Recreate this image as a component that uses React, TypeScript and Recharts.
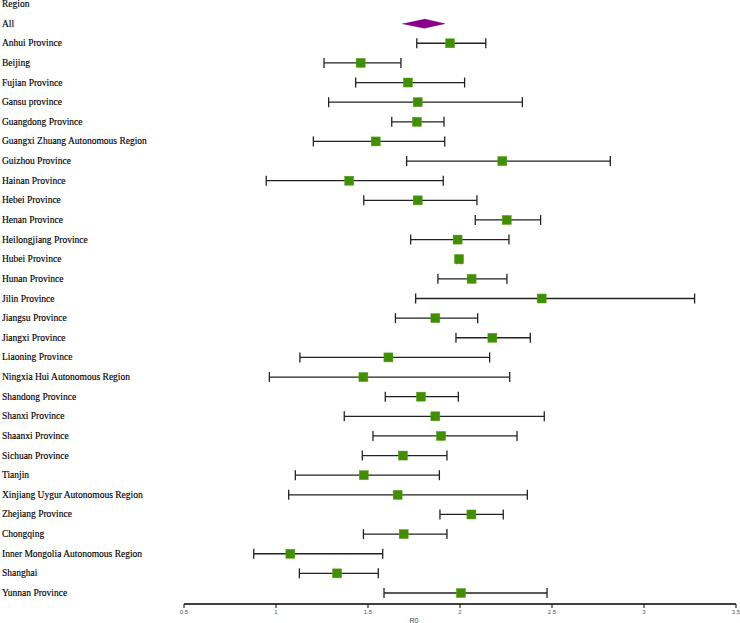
import React from "react";
import { ScatterChart, Scatter, XAxis, YAxis, ErrorBar } from "recharts";

const headerLabel = "Region";
const pooledLabel = "All";
const pooledEstimate = 1.806;
const pooledLower = 1.686;
const pooledUpper = 1.918;

const regionNames = [
  "Anhui Province",
  "Beijing",
  "Fujian Province",
  "Gansu province",
  "Guangdong Province",
  "Guangxi Zhuang Autonomous Region",
  "Guizhou Province",
  "Hainan Province",
  "Hebei Province",
  "Henan Province",
  "Heilongjiang Province",
  "Hubei Province",
  "Hunan Province",
  "Jilin Province",
  "Jiangsu Province",
  "Jiangxi Province",
  "Liaoning Province",
  "Ningxia Hui Autonomous Region",
  "Shandong Province",
  "Shanxi Province",
  "Shaanxi Province",
  "Sichuan Province",
  "Tianjin",
  "Xinjiang Uygur Autonomous Region",
  "Zhejiang Province",
  "Chongqing",
  "Inner Mongolia Autonomous Region",
  "Shanghai",
  "Yunnan Province",
];

const r0Values = [
  1.946, 1.46, 1.717, 1.77, 1.766, 1.542, 2.23, 1.398, 1.77, 2.254, 1.987, 1.995,
  2.063, 2.444, 1.866, 2.176, 1.611, 1.475, 1.788, 1.866, 1.897, 1.69, 1.477,
  1.661, 2.062, 1.694, 1.078, 1.332, 2.005,
];

const lowerValues = [
  1.765, 1.261, 1.433, 1.286, 1.629, 1.203, 1.71, 0.947, 1.477, 2.083, 1.732,
  1.985, 1.88, 1.759, 1.649, 1.978, 1.13, 0.964, 1.594, 1.371, 1.527, 1.469,
  1.105, 1.069, 1.891, 1.475, 0.879, 1.127, 1.587,
];

const upperValues = [
  2.14, 1.679, 2.025, 2.339, 1.913, 1.917, 2.817, 1.909, 2.092, 2.438, 2.266,
  2.005, 2.255, 3.275, 2.096, 2.382, 2.161, 2.27, 1.991, 2.458, 2.31, 1.929,
  1.888, 2.366, 2.235, 1.929, 1.58, 1.556, 2.473,
];

const xTicks = [0.5, 1, 1.5, 2, 2.5, 3, 3.5];

const rowLabels = [headerLabel, pooledLabel, ...regionNames];
const rowTicks = rowLabels.map((_, i) => i);

const regionData = regionNames.map((name, i) => ({
  name,
  row: i + 2,
  r0: r0Values[i],
  ci: [r0Values[i] - lowerValues[i], upperValues[i] - r0Values[i]],
}));

const DIAMOND_HALF = 0.23;
const diamondData = [
  { row: 1 - DIAMOND_HALF, r0: pooledEstimate },
  { row: 1, r0: pooledUpper },
  { row: 1 + DIAMOND_HALF, r0: pooledEstimate },
  { row: 1, r0: pooledLower },
];

const RowTick = (props: any) => {
  const { y, payload } = props;
  return (
    <text
      x={2}
      y={y}
      dominantBaseline="central"
      textAnchor="start"
      fontFamily="'Liberation Serif', 'Times New Roman', serif"
      fontSize={9.5}
      fill="#000"
      stroke="#000"
      strokeWidth={0.15}
    >
      {rowLabels[payload.value]}
    </text>
  );
};

const SquareShape = (props: any) => {
  const { cx, cy } = props;
  const s = 9;
  return (
    <rect
      x={cx - s / 2}
      y={cy - s / 2}
      width={s}
      height={s}
      fill="#3F8F00"
      stroke="#5aa020"
      strokeWidth={0.5}
    />
  );
};

const NoShape = () => null;

export default function App() {
  return (
    <div style={{ position: "absolute", left: 0, top: 0, width: 740, height: 623, background: "#fff" }}>
      <ScatterChart width={740} height={623} margin={{ top: 0, right: 4, bottom: 0, left: 0 }}>
        <XAxis
          type="number"
          dataKey="r0"
          domain={[0.5, 3.5]}
          ticks={xTicks}
          interval={0}
          allowDataOverflow
          height={19}
          tickSize={4}
          axisLine={{ stroke: "#000", strokeWidth: 1.3 }}
          tickLine={{ stroke: "#000", strokeWidth: 1 }}
          tick={{ fontSize: 6, fill: "#555", fontFamily: "'Liberation Sans', Arial, sans-serif" }}
          label={{
            value: "R0",
            position: "insideBottom",
            offset: 0,
            dx: -46,
            fontSize: 7,
            fill: "#444",
            fontFamily: "'Liberation Sans', Arial, sans-serif",
          }}
        />
        <YAxis
          type="number"
          dataKey="row"
          domain={[-0.2037, 30.56]}
          reversed
          allowDataOverflow
          ticks={rowTicks}
          interval={0}
          width={184}
          axisLine={false}
          tickLine={false}
          tick={<RowTick />}
        />
        <Scatter
          data={diamondData}
          isAnimationActive={false}
          fill="#8B008B"
          line={{ fill: "#8B008B", stroke: "#8B008B", strokeWidth: 0.5 }}
          lineType="joint"
          shape={<NoShape />}
        />
        <Scatter data={regionData} isAnimationActive={false} fill="#3F8F00" shape={<SquareShape />}>
          <ErrorBar
            dataKey="ci"
            direction="x"
            width={5}
            stroke="#222"
            strokeWidth={1.3}
            isAnimationActive={false}
          />
        </Scatter>
      </ScatterChart>
    </div>
  );
}
